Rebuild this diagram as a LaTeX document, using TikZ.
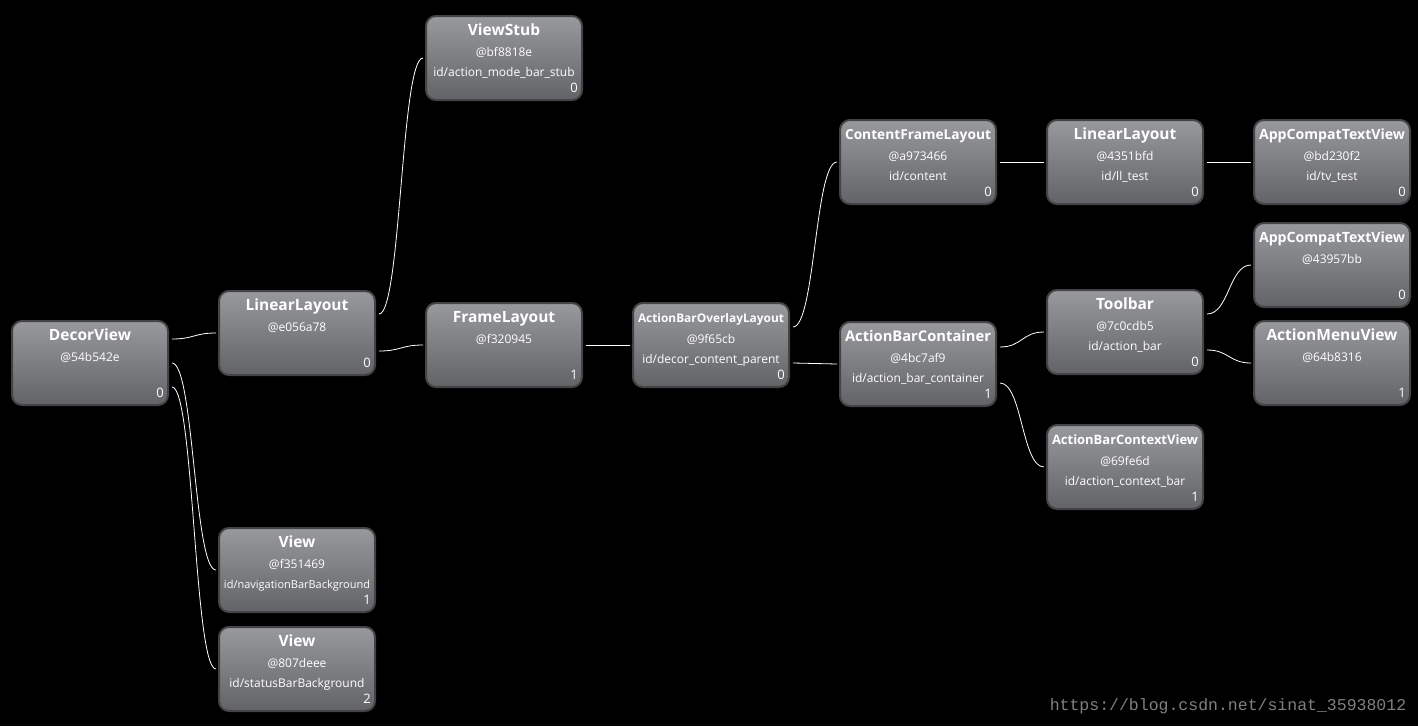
\documentclass[tikz,border=0pt]{standalone}
\usepackage{graphicx}
\usepackage{fontspec}
\setmainfont{Open Sans}
\setmonofont{Liberation Mono}
\usetikzlibrary{positioning}
\definecolor{boxtop}{RGB}{152,153,156}
\definecolor{boxbot}{RGB}{98,99,103}
\definecolor{boxline}{RGB}{68,68,70}
\definecolor{markgray}{RGB}{128,128,128}
% shrink a text line to the width of a box when it is too long
\newsavebox\fitbox
\newcommand\fitline[2]{\sbox\fitbox{#1#2}\ifdim\wd\fitbox>146pt\resizebox{146pt}{!}{\usebox\fitbox}\else\usebox\fitbox\fi}
\newcommand\vtitle[1]{\fitline{\fontsize{15.5}{18}\selectfont\bfseries}{#1}}
\newcommand\vsub[1]{\fitline{}{#1}}
\newcommand\vtext[1]{\begin{tabular}[t]{@{}c@{}}#1\end{tabular}}
\tikzset{
    viewbox/.style={draw=boxline, line width=2pt, rounded corners=10pt, top color=boxtop, bottom color=boxbot,
        minimum width=156pt, minimum height=84pt, text=white,
        font=\fontsize{12}{20.5}\selectfont, text height=11pt, text depth=56pt, inner xsep=4pt, inner ysep=8pt}, % one view of the tree
    idx/.style={anchor=south east, inner sep=0pt, text=white, font=\fontsize{13}{13}\selectfont, xshift=-5pt, yshift=8pt}, % index in parent
    link/.style={draw=white, line width=0.8pt, out=0, in=180, distance=22pt}, % parent to child
}
\begin{document}
\begin{tikzpicture}[x=1pt, y=-1pt, node distance=207pt]
    \fill[black] (0,0) rectangle (1418,726);
    \node[viewbox, label={[idx]south east:0}] (decor) at (90,363) {\vtext{\vtitle{DecorView}\\\vsub{@54b542e}}};
    \node[viewbox, label={[idx]south east:0}] (ll1) at (297,333) {\vtext{\vtitle{LinearLayout}\\\vsub{@e056a78}}};
    \node[viewbox, label={[idx]south east:0}] (stub) at (504,58) {\vtext{\vtitle{ViewStub}\\\vsub{@bf8818e}\\\vsub{id/action\_mode\_bar\_stub}}};
    \node[viewbox, label={[idx]south east:1}] (frame) at (504,345) {\vtext{\vtitle{FrameLayout}\\\vsub{@f320945}}};
    \node[viewbox, right of=frame, label={[idx]south east:0}] (abol) {\vtext{\vtitle{ActionBarOverlayLayout}\\\vsub{@9f65cb}\\\vsub{id/decor\_content\_parent}}};
    \node[viewbox, label={[idx]south east:0}] (cfl) at (918,162) {\vtext{\vtitle{ContentFrameLayout}\\\vsub{@a973466}\\\vsub{id/content}}};
    \node[viewbox, label={[idx]south east:1}] (abc) at (918,364) {\vtext{\vtitle{ActionBarContainer}\\\vsub{@4bc7af9}\\\vsub{id/action\_bar\_container}}};
    \node[viewbox, right of=cfl, label={[idx]south east:0}] (ll2) {\vtext{\vtitle{LinearLayout}\\\vsub{@4351bfd}\\\vsub{id/ll\_test}}};
    \node[viewbox, right of=ll2, label={[idx]south east:0}] (tv1) {\vtext{\vtitle{AppCompatTextView}\\\vsub{@bd230f2}\\\vsub{id/tv\_test}}};
    \node[viewbox, label={[idx]south east:0}] (tbar) at (1125,332) {\vtext{\vtitle{Toolbar}\\\vsub{@7c0cdb5}\\\vsub{id/action\_bar}}};
    \node[viewbox, label={[idx]south east:0}] (tv2) at (1332,265) {\vtext{\vtitle{AppCompatTextView}\\\vsub{@43957bb}}};
    \node[viewbox, label={[idx]south east:1}] (menu) at (1332,363) {\vtext{\vtitle{ActionMenuView}\\\vsub{@64b8316}}};
    \node[viewbox, label={[idx]south east:1}] (ctx) at (1125,467) {\vtext{\vtitle{ActionBarContextView}\\\vsub{@69fe6d}\\\vsub{id/action\_context\_bar}}};
    \node[viewbox, label={[idx]south east:1}] (nav) at (297,570) {\vtext{\vtitle{View}\\\vsub{@f351469}\\\vsub{id/navigationBarBackground}}};
    \node[viewbox, label={[idx]south east:2}] (status) at (297,669) {\vtext{\vtitle{View}\\\vsub{@807deee}\\\vsub{id/statusBarBackground}}};
    \node[text=markgray, font=\ttfamily\fontsize{16.5}{18}\selectfont] (mark) at (1228,706) {https://blog.csdn.net/sinat\_35938012};
    \draw
    ([xshift=3pt,yshift=24pt]decor.east) edge[link] ([xshift=-2pt]ll1.west)
    ([xshift=3pt]decor.east) edge[link] ([xshift=-2pt]nav.west)
    ([xshift=3pt,yshift=-24pt]decor.east) edge[link] ([xshift=-2pt]status.west)
    ([xshift=3pt,yshift=19pt]ll1.east) edge[link] ([xshift=-2pt]stub.west)
    ([xshift=3pt,yshift=-18pt]ll1.east) edge[link] ([xshift=-2pt]frame.west)
    ([xshift=3pt]frame.east) edge[link] ([xshift=-2pt]abol.west)
    ([xshift=3pt,yshift=18pt]abol.east) edge[link] ([xshift=-2pt]cfl.west)
    ([xshift=3pt,yshift=-18pt]abol.east) edge[link] ([xshift=-2pt]abc.west)
    ([xshift=3pt]cfl.east) edge[link] ([xshift=-2pt]ll2.west)
    ([xshift=3pt]ll2.east) edge[link] ([xshift=-2pt]tv1.west)
    ([xshift=3pt,yshift=17pt]abc.east) edge[link] ([xshift=-2pt]tbar.west)
    ([xshift=3pt,yshift=-19pt]abc.east) edge[link] ([xshift=-2pt]ctx.west)
    ([xshift=3pt,yshift=18pt]tbar.east) edge[link] ([xshift=-2pt]tv2.west)
    ([xshift=3pt,yshift=-18pt]tbar.east) edge[link] ([xshift=-2pt]menu.west);
\end{tikzpicture}
\end{document}
